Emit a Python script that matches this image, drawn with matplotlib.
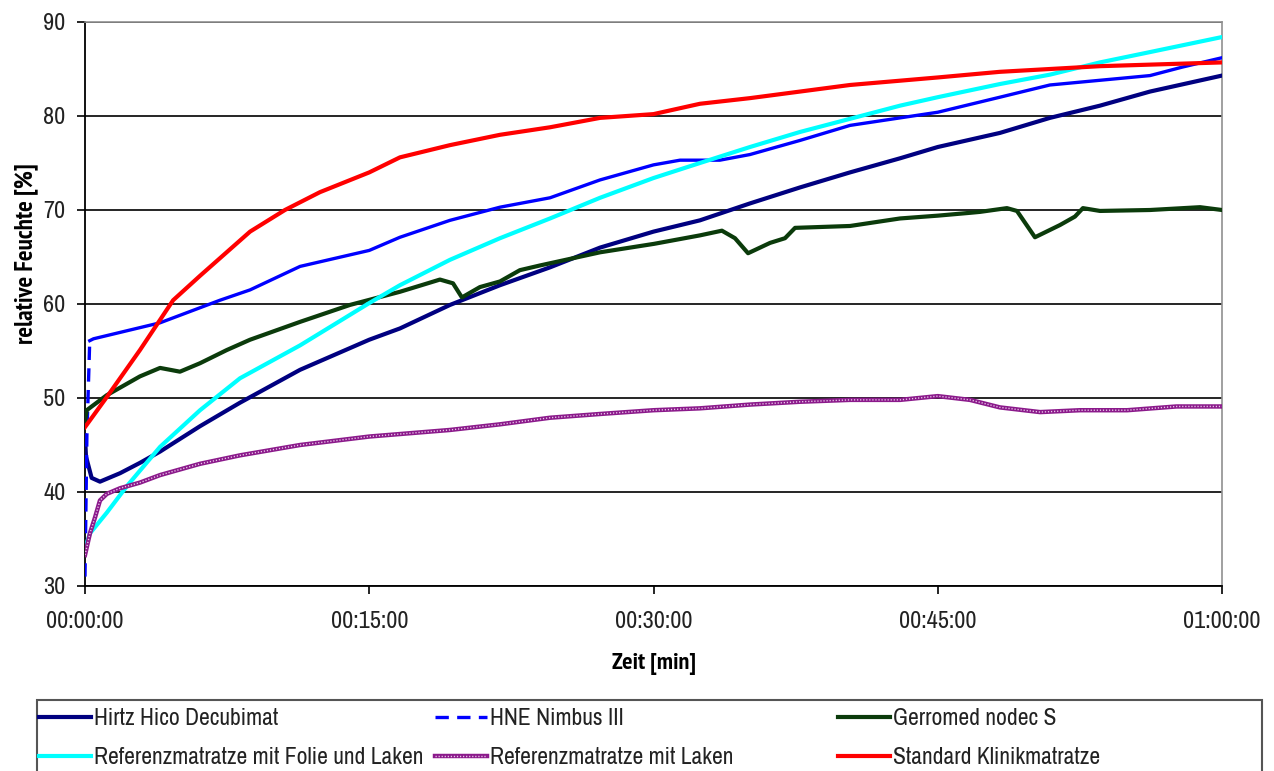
import matplotlib
matplotlib.use("Agg")
import matplotlib.pyplot as plt
from matplotlib.patches import Rectangle
from matplotlib.lines import Line2D
from matplotlib.ticker import FixedLocator, FuncFormatter

plt.rcParams['font.family'] = ['Archivo Narrow', 'Liberation Sans', 'DejaVu Sans']
BOLD_FAMILY = ['PT Sans Narrow', 'Liberation Sans', 'DejaVu Sans']

# --- Messdaten: Zeit in Minuten, relative Feuchte in % ---
t_hirtz = [0, 0.05, 0.35, 0.79, 1.85, 2.9, 3.96, 6.07, 8.18, 11.35, 15.0, 16.62, 19.26, 21.9,
           24.54, 27.18, 30.0, 32.45, 35.09, 37.73, 40.37, 43.01, 45.0, 48.28, 50.92, 53.56, 56.2, 60.0]
rh_hirtz = [46.0, 43.8, 41.5, 41.1, 42.0, 43.1, 44.3, 47.0, 49.5, 53.0, 56.2, 57.4, 59.9, 62.0,
            63.9, 66.0, 67.7, 68.9, 70.7, 72.4, 74.0, 75.5, 76.7, 78.2, 79.8, 81.1, 82.6, 84.3]

t_nimbus = [0, 0.1, 0.25, 0.45, 3.96, 7.12, 8.71, 11.35, 15.0, 16.62, 19.26, 21.9, 24.54, 27.18,
            30.0, 31.4, 33.5, 35.09, 37.73, 40.37, 43.01, 45.0, 48.28, 50.92, 53.56, 56.2, 57.9, 60.0]
rh_nimbus = [31.0, 46.0, 56.1, 56.3, 58.0, 60.4, 61.5, 64.0, 65.7, 67.1, 68.9, 70.3, 71.3, 73.2,
             74.8, 75.3, 75.3, 75.9, 77.4, 79.0, 79.8, 80.4, 82.0, 83.3, 83.8, 84.3, 85.2, 86.2]

t_gerromed = [0, 0.09, 1.15, 2.9, 3.96, 4.49, 5.01, 6.07, 7.48, 8.71, 11.35, 13.98, 16.62, 18.73,
              19.42, 19.89, 20.84, 21.9, 22.95, 24.01, 27.18, 30.03, 32.45, 33.61, 34.3, 34.99,
              36.15, 36.94, 37.47, 40.37, 43.01, 45.01, 46.7, 47.23, 48.65, 49.18, 50.13, 51.45,
              52.24, 52.66, 53.56, 56.2, 58.84, 60.0]
rh_gerromed = [47.5, 48.7, 50.3, 52.3, 53.2, 53.0, 52.8, 53.7, 55.1, 56.2, 58.1, 59.9, 61.3, 62.6,
               62.2, 60.7, 61.8, 62.4, 63.6, 64.1, 65.5, 66.4, 67.3, 67.8, 67.0, 65.4,
               66.5, 67.0, 68.1, 68.3, 69.1, 69.4, 69.7, 69.8, 70.2, 69.9, 67.1, 68.4,
               69.3, 70.2, 69.9, 70.0, 70.3, 70.0]

t_folie = [0, 0.26, 1.15, 2.2, 3.96, 6.07, 8.18, 11.35, 15.0, 16.62, 19.26, 21.9, 24.54, 27.18,
           30.0, 32.45, 35.09, 37.73, 40.37, 43.01, 45.0, 48.28, 50.92, 53.56, 56.2, 60.0]
rh_folie = [34.0, 35.6, 37.8, 40.6, 44.8, 48.7, 52.1, 55.6, 60.1, 62.0, 64.7, 67.0, 69.1, 71.3,
            73.4, 75.0, 76.7, 78.3, 79.7, 81.1, 82.0, 83.4, 84.4, 85.7, 86.8, 88.4]

t_laken = [0, 0.26, 0.53, 0.79, 1.15, 1.85, 2.9, 3.96, 6.07, 8.18, 11.35, 15.0, 19.26, 21.9,
           24.54, 27.18, 30.0, 32.45, 35.09, 37.73, 40.37, 43.01, 45.0, 46.7, 48.28, 50.4,
           52.5, 55.0, 57.6, 60.0]
rh_laken = [33.3, 35.6, 37.3, 39.1, 39.8, 40.4, 41.0, 41.8, 43.0, 43.9, 45.0, 45.9, 46.6, 47.2,
            47.9, 48.3, 48.7, 48.9, 49.3, 49.6, 49.8, 49.8, 50.2, 49.8, 49.0, 48.5,
            48.7, 48.7, 49.1, 49.1]

t_standard = [0, 1.15, 2.9, 4.65, 6.07, 8.71, 10.55, 12.4, 15.0, 16.62, 19.26, 21.9, 24.54, 27.18,
              30.0, 32.45, 35.09, 37.73, 40.37, 45.0, 48.28, 50.92, 53.56, 60.0]
rh_standard = [46.9, 50.1, 55.1, 60.4, 63.0, 67.7, 70.0, 71.9, 74.0, 75.6, 76.9, 78.0, 78.8, 79.8,
               80.2, 81.3, 81.9, 82.6, 83.3, 84.1, 84.7, 85.0, 85.3, 85.7]

labels = ["Hirtz Hico Decubimat", "HNE Nimbus III", "Gerromed nodec S",
          "Referenzmatratze mit Folie und Laken", "Referenzmatratze mit Laken",
          "Standard Klinikmatratze"]
x_ticks = [0, 15, 30, 45, 60]
y_ticks = [30, 40, 50, 60, 70, 80, 90]

c_hirtz, c_nimbus, c_gerromed = "#000080", "#0000FF", "#0B3B0B"
c_folie, c_laken, c_standard = "#00FFFF", "#8B1A8B", "#FF0000"
c_laken_inner = "#E9C6E9"

W, H = 1274, 771
fig = plt.figure(figsize=(W / 100, H / 100), dpi=100)
ax = fig.add_axes([85 / W, 1 - 586 / H, (1222 - 85) / W, (586 - 22) / H])

lw = 3.0
ax.plot(t_hirtz, rh_hirtz, color=c_hirtz, lw=lw, zorder=3)
# Nimbus: Sprung am Anfang gestrichelt, danach durchgezogen
ax.plot(t_nimbus[:3], rh_nimbus[:3], color=c_nimbus, lw=2.4, dashes=(4, 2.5), zorder=3)
ax.plot(t_nimbus[2:], rh_nimbus[2:], color=c_nimbus, lw=2.4, zorder=3)
ax.plot(t_gerromed, rh_gerromed, color=c_gerromed, lw=lw, zorder=3)
ax.plot(t_folie, rh_folie, color=c_folie, lw=lw, zorder=3)
ax.plot(t_laken, rh_laken, color=c_laken, lw=3.2, zorder=3)
ax.plot(t_laken, rh_laken, color=c_laken_inner, lw=1.0, dashes=(0.9, 1.3), zorder=3)
ax.plot(t_standard, rh_standard, color=c_standard, lw=lw, zorder=3)

ax.set_xlim(0, 60)
ax.set_ylim(30, 90)
ax.xaxis.set_major_locator(FixedLocator(x_ticks))
ax.yaxis.set_major_locator(FixedLocator(y_ticks))
ax.xaxis.set_major_formatter(FuncFormatter(lambda m, p: f"{int(m // 60):02d}:{int(m % 60):02d}:00"))
ax.yaxis.set_major_formatter(FuncFormatter(lambda v, p: f"{int(v)}"))
ax.tick_params(axis="both", direction="out", length=6, width=1.2, color="black",
               labelsize=17.5, labelcolor="#222222")
ax.tick_params(axis="y", pad=8)
ax.tick_params(axis="x", pad=12)

ax.grid(axis="y", color="black", lw=1.2, zorder=1)
ax.grid(axis="x", visible=False)
for s in ("left", "bottom"):
    ax.spines[s].set_color("black")
    ax.spines[s].set_linewidth(1.3)
for s in ("top", "right"):
    ax.spines[s].set_color("#909090")
    ax.spines[s].set_linewidth(1.2)

ax.set_xlabel("Zeit [min]", fontsize=17.5, fontweight="bold", family=BOLD_FAMILY, labelpad=15)
ax.set_ylabel("relative Feuchte [%]", fontsize=18, fontweight="bold", family=BOLD_FAMILY)
ax.yaxis.set_label_coords(-0.041, 0.59)

# Legende: Rahmen und drei gleich breite Spalten
fig.patches.append(Rectangle((37 / W, 1 - 774 / H), (1262 - 37) / W, 74 / H,
                             transform=fig.transFigure, fill=False,
                             edgecolor="#555555", lw=1.5))

h_hirtz = Line2D([], [], color=c_hirtz, lw=lw)
h_nimbus = Line2D([], [], color=c_nimbus, lw=2.4, dashes=(4, 2.5))
h_gerromed = Line2D([], [], color=c_gerromed, lw=lw)
h_folie = Line2D([], [], color=c_folie, lw=lw)
h_laken = (Line2D([], [], color=c_laken, lw=3.2),
           Line2D([], [], color=c_laken_inner, lw=1.0, dashes=(0.9, 1.3)))
h_standard = Line2D([], [], color=c_standard, lw=lw)

columns = [([h_hirtz, h_folie], [labels[0], labels[3]], 37),
           ([h_nimbus, h_laken], [labels[1], labels[4]], 433),
           ([h_gerromed, h_standard], [labels[2], labels[5]], 836)]
for handles, labs, x0 in columns:
    leg = fig.legend(handles, labs, loc="upper left",
                     bbox_to_anchor=(x0 / W, 1 - 706 / H), frameon=False,
                     fontsize=17, handlelength=2.2, handletextpad=0.12,
                     labelspacing=0.76, borderpad=0.1, borderaxespad=0.0)
    for txt in leg.get_texts():
        txt.set_color("#222222")

fig.savefig("out.png", dpi=100)
